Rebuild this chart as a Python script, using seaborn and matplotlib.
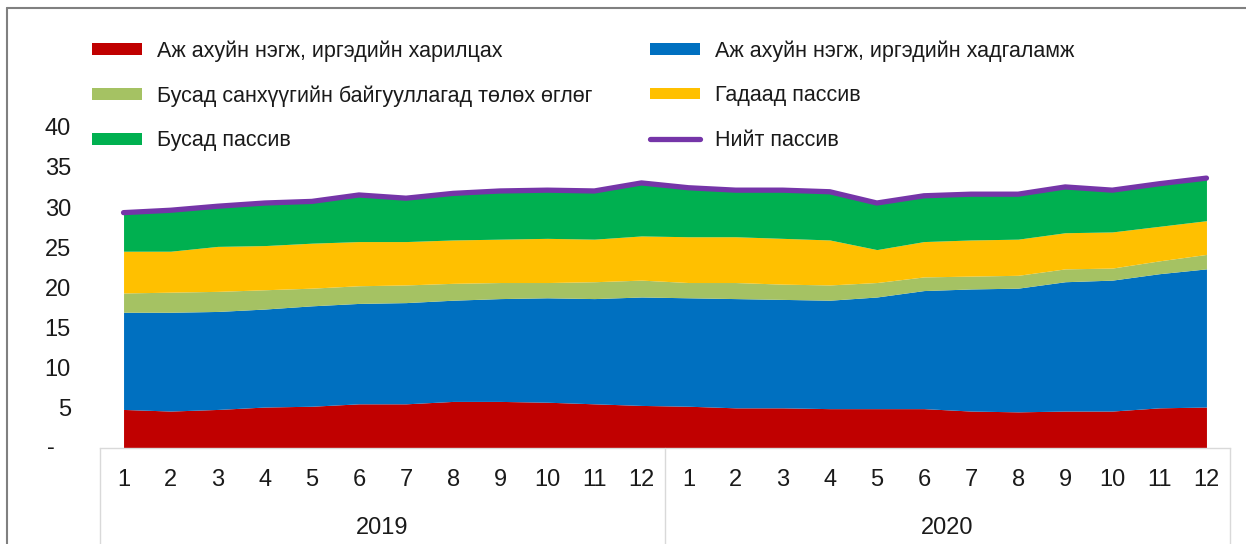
import numpy as np
import pandas as pd
import matplotlib
matplotlib.use("Agg")
import matplotlib.pyplot as plt
from matplotlib.lines import Line2D
from matplotlib.patches import Patch
import seaborn as sns

years = ["2019", "2020"]
months = [str(m) for m in range(1, 13)] * 2

current_acc = [4.8, 4.6, 4.8, 5.1, 5.2, 5.5, 5.5, 5.8, 5.8, 5.7, 5.5, 5.3,
               5.2, 5.0, 5.0, 4.9, 4.9, 4.9, 4.6, 4.5, 4.6, 4.6, 5.0, 5.1]
deposits = [12.1, 12.3, 12.2, 12.2, 12.5, 12.5, 12.6, 12.6, 12.8, 13.0, 13.1, 13.5,
            13.5, 13.6, 13.5, 13.5, 13.9, 14.7, 15.2, 15.4, 16.1, 16.3, 16.7, 17.2]
due_fin = [2.4, 2.5, 2.5, 2.4, 2.2, 2.2, 2.2, 2.1, 2.0, 1.9, 2.1, 2.1,
           1.9, 2.0, 1.9, 1.9, 1.8, 1.7, 1.6, 1.6, 1.6, 1.5, 1.6, 1.8]
foreign = [5.2, 5.1, 5.6, 5.5, 5.6, 5.5, 5.4, 5.4, 5.4, 5.5, 5.3, 5.5,
           5.7, 5.7, 5.7, 5.6, 4.1, 4.4, 4.5, 4.5, 4.5, 4.5, 4.3, 4.2]
other = [4.8, 5.1, 5.0, 5.3, 5.2, 5.8, 5.4, 5.8, 6.0, 6.0, 6.0, 6.6,
         6.1, 5.8, 6.0, 6.0, 5.8, 5.7, 5.7, 5.6, 5.7, 5.2, 5.3, 5.3]

labels = ["Аж ахуйн нэгж, иргэдийн харилцах",
          "Аж ахуйн нэгж, иргэдийн хадгаламж",
          "Бусад санхүүгийн байгууллагад төлөх өглөг",
          "Гадаад пассив",
          "Бусад пассив"]
total_label = "Нийт пассив"
colors = ["#C00000", "#0070C0", "#A5C263", "#FFC000", "#00B050"]
total_color = "#7535A8"

df = pd.DataFrame({"x": np.arange(1, 25), "a": current_acc, "b": deposits,
                   "c": due_fin, "d": foreign, "e": other})
df["total"] = df[["a", "b", "c", "d", "e"]].sum(axis=1)

sns.set_theme(style="white")
plt.rcParams["font.family"] = ["Liberation Sans", "DejaVu Sans"]
txt = "#1a1a1a"

fig = plt.figure(figsize=(12.46, 5.44), dpi=100)
ax = fig.add_axes([100 / 1246, 1 - 448 / 544, 1130 / 1246, 321.3 / 544])

ax.stackplot(df["x"], df["a"], df["b"], df["c"], df["d"], df["e"],
             colors=colors, linewidth=0)
sns.lineplot(data=df, x="x", y="total", color=total_color, linewidth=3.8,
             ax=ax, legend=False)

ax.set_xlim(0.5, 24.5)
ax.set_ylim(0, 40)
ax.set_yticks(range(0, 41, 5))
ax.set_yticklabels([""] + [str(v) for v in range(5, 41, 5)], fontsize=17, color=txt)
# zero shown as a dash, placed like the accounting format does
ax.annotate("-", xy=(0, 0), xycoords=("axes fraction", "data"), xytext=(-49, 0),
            textcoords="offset pixels", ha="center", va="center", fontsize=17, color=txt)
ax.set_xticks(df["x"])
ax.set_xticklabels(months, fontsize=17, color=txt)
ax.tick_params(axis="y", length=0, pad=21)
ax.tick_params(axis="x", length=0, pad=15)
ax.set_xlabel("")
ax.set_ylabel("")
for s in ["top", "right", "left"]:
    ax.spines[s].set_visible(False)
ax.spines["bottom"].set_color("#D9D9D9")
ax.spines["bottom"].set_linewidth(1)

# category separators and year labels
trans = ax.get_xaxis_transform()
for xv in [0.5, 12.5, 24.5]:
    ax.plot([xv, xv], [0, -0.31], transform=trans, color="#D9D9D9", lw=1, clip_on=False)
for i, yr in enumerate(years):
    ax.text(6.5 + 12 * i, -0.25, yr, transform=trans, ha="center", va="center",
            fontsize=17, color=txt)

# legends
h = [Patch(facecolor=c, edgecolor="none") for c in colors]
h_tot = Line2D([0], [0], color=total_color, lw=3.8)
kw = dict(frameon=False, fontsize=15.5, handlelength=2.3, handleheight=0.47,
          handletextpad=0.7, labelspacing=1.1, borderpad=0, borderaxespad=0,
          loc="upper left", labelcolor=txt)
fig.legend([h[0], h[2], h[4]], [labels[0], labels[2], labels[4]],
           bbox_to_anchor=(92 / 1246, 1 - 40 / 544), **kw)
fig.legend([h[1], h[3], h_tot], [labels[1], labels[3], total_label],
           bbox_to_anchor=(650 / 1246, 1 - 40 / 544), **kw)

# outer frame
fig.add_artist(Line2D([7 / 1246, 1], [1 - 8 / 544, 1 - 8 / 544], color="#808080", lw=1.5))
fig.add_artist(Line2D([7 / 1246, 7 / 1246], [0, 1 - 8 / 544], color="#808080", lw=1.5))

fig.savefig("out.png", dpi=100)
plt.close(fig)
